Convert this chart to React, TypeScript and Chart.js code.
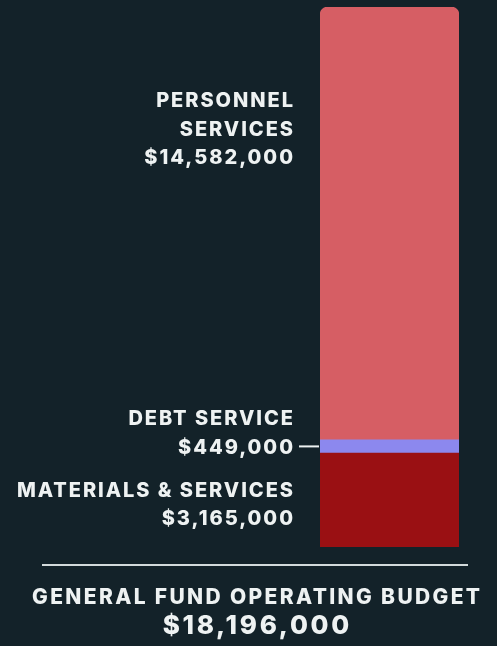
import React, { useEffect, useRef } from "react";
import { Chart, registerables } from "chart.js";

Chart.register(...registerables);

const categories = ["General Fund"];
const materialsValues = [3165000];
const debtValues = [449000];
const personnelValues = [14582000];
const totalBudget = 18196000;

const personnelLabel = ["PERSONNEL", "SERVICES", "$14,582,000"];
const debtLabel = ["DEBT SERVICE", "$449,000"];
const materialsLabel = ["MATERIALS & SERVICES", "$3,165,000"];
const titleText = "GENERAL FUND OPERATING BUDGET";
const totalText = "$18,196,000";

const BG = "#132229";
const TEXT = "#eef2f2";

export default function App() {
  const ref = useRef<HTMLCanvasElement | null>(null);

  useEffect(() => {
    document.body.style.margin = "0";
    document.body.style.background = BG;
    const canvas = ref.current!;
    const labelsPlugin = {
      id: "labelsPlugin",
      afterDraw(chart: any) {
        const ctx = chart.ctx as CanvasRenderingContext2D;
        const y = chart.scales.y;
        const area = chart.chartArea;
        const m = materialsValues[0];
        const d = debtValues[0];
        const p = personnelValues[0];
        const yBottom = y.getPixelForValue(0);
        const yM = y.getPixelForValue(m);
        const yD = y.getPixelForValue(m + d);
        const yP = y.getPixelForValue(m + d + p);
        const ls = 1.95;
        const rightX = area.left - 27 + ls;
        ctx.save();
        ctx.fillStyle = TEXT;
        ctx.textAlign = "right";
        ctx.textBaseline = "middle";
        ctx.font = "800 20px Inter";
        (ctx as any).letterSpacing = ls + "px";
        const lh = 28.5;
        personnelLabel.forEach((t, i) => ctx.fillText(t, rightX, yP + 94 + i * lh));
        const dc = (yM + yD) / 2;
        debtLabel.forEach((t, i) => ctx.fillText(t, rightX, dc + 1.5 - (debtLabel.length - 1 - i) * lh));
        const mc = (yM + yBottom) / 2;
        materialsLabel.forEach((t, i) => ctx.fillText(t, rightX, mc - 9.5 + i * lh));
        // connector
        ctx.strokeStyle = TEXT;
        ctx.lineWidth = 2;
        ctx.beginPath();
        ctx.moveTo(area.left - 21, dc);
        ctx.lineTo(area.left - 1, dc);
        ctx.stroke();
        // divider line
        ctx.strokeStyle = "#d3dadb";
        ctx.lineWidth = 2;
        ctx.beginPath();
        ctx.moveTo(42, yBottom + 18);
        ctx.lineTo(468, yBottom + 18);
        ctx.stroke();
        // title
        ctx.textAlign = "center";
        ctx.font = "800 21px Inter";
        (ctx as any).letterSpacing = "2.35px";
        ctx.fillText(titleText, 256 + 1.2, yBottom + 51);
        ctx.font = "800 26px Inter";
        (ctx as any).letterSpacing = "2.7px";
        ctx.fillText(totalText, 256 + 1.3, yBottom + 79);
        ctx.restore();
      },
    };
    const chart = new Chart(canvas, {
      type: "bar",
      data: {
        labels: categories,
        datasets: [
          {
            label: "MATERIALS & SERVICES",
            data: materialsValues,
            backgroundColor: "#9a1013",
            borderSkipped: false,
            borderRadius: 0,
          },
          {
            label: "DEBT SERVICE",
            data: debtValues,
            backgroundColor: "#8c88ee",
            borderSkipped: false,
            borderRadius: 0,
          },
          {
            label: "PERSONNEL SERVICES",
            data: personnelValues,
            backgroundColor: "#d65e64",
            borderSkipped: false,
            borderRadius: { topLeft: 8, topRight: 8, bottomLeft: 0, bottomRight: 0 },
          },
        ],
      },
      options: {
        responsive: false,
        animation: false,
        maintainAspectRatio: false,
        datasets: { bar: { barPercentage: 1, categoryPercentage: 1 } },
        layout: { padding: { left: 320, right: 38, top: 7, bottom: 99 } },
        plugins: { legend: { display: false }, tooltip: { enabled: false }, title: { display: false } },
        scales: {
          x: { stacked: true, display: false },
          y: { stacked: true, display: false, min: 0, max: totalBudget },
        },
      },
      plugins: [labelsPlugin],
    });
    return () => chart.destroy();
  }, []);

  return (
    <div style={{ width: 497, height: 646, background: BG }}>
      <canvas ref={ref} width={497} height={646} style={{ display: "block" }} />
    </div>
  );
}
